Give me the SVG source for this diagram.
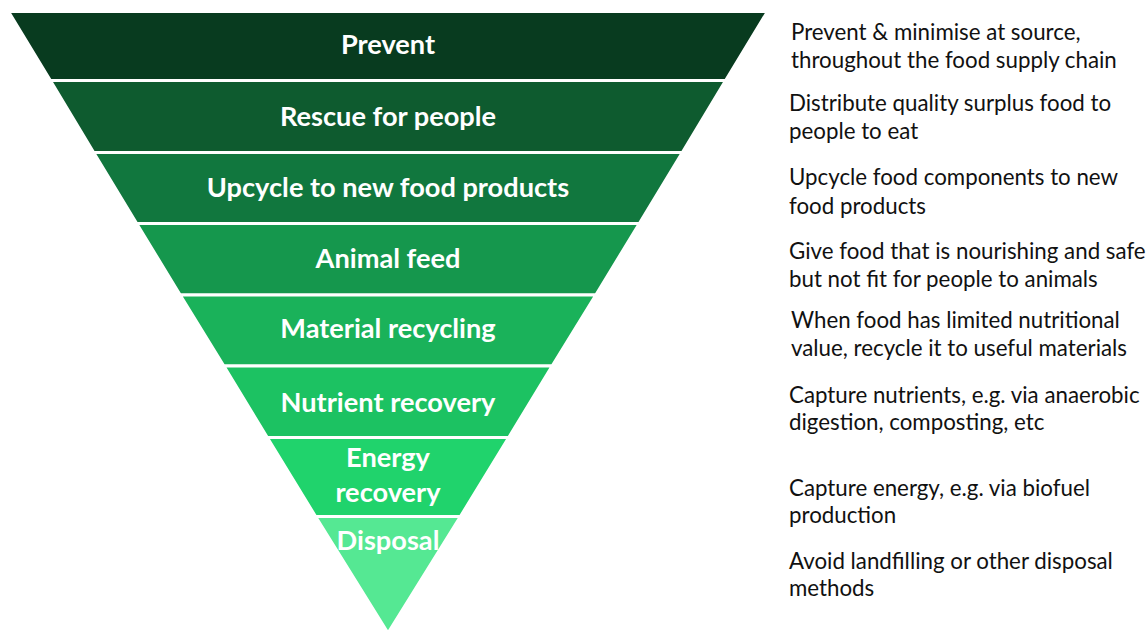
<svg xmlns="http://www.w3.org/2000/svg" width="1148" height="633" viewBox="0 0 1148 633">
<style>
.band{stroke:#ffffff;stroke-width:3;stroke-linejoin:miter}
.lbl{font-family:Lato,"Liberation Sans",sans-serif;font-weight:bold;font-size:27.2px;fill:#ffffff;text-anchor:middle}
.desc{font-family:Lato,"Liberation Sans",sans-serif;font-size:22.3px;fill:#111111}
</style>
<rect width="1148" height="633" fill="#ffffff"/>
<g id="pyramid">
<g id="n-prevent"><polygon class="band" points="8.5,11.5 767.5,11.5 725.6,80.5 50.4,80.5" fill="#083b1f"/><text class="lbl" x="388" y="54">Prevent</text></g>
<g id="n-rescue"><polygon class="band" points="50.4,80.5 725.6,80.5 682.3,152.5 93.7,152.5" fill="#0e5b2f"/><text class="lbl" x="388" y="125.5">Rescue for people</text></g>
<g id="n-upcycle"><polygon class="band" points="93.7,152.5 682.3,152.5 639.3,223.5 136.7,223.5" fill="#11773e"/><text class="lbl" x="388" y="196.5">Upcycle to new food products</text></g>
<g id="n-animal"><polygon class="band" points="136.7,223.5 639.3,223.5 595.8,295 180.2,295" fill="#15974d"/><text class="lbl" x="388" y="268">Animal feed</text></g>
<g id="n-material"><polygon class="band" points="180.2,295 595.8,295 552.1,366 223.9,366" fill="#1ab25a"/><text class="lbl" x="388" y="338">Material recycling</text></g>
<g id="n-nutrient"><polygon class="band" points="223.9,366 552.1,366 508.7,437.5 267.3,437.5" fill="#1cc262"/><text class="lbl" x="388" y="412">Nutrient recovery</text></g>
<g id="n-energy"><polygon class="band" points="267.3,437.5 508.7,437.5 460.4,516.5 315.6,516.5" fill="#20d36c"/><text class="lbl" x="388" y="467">Energy</text><text class="lbl" x="388" y="502">recovery</text></g>
<g id="n-disposal"><polygon class="band" points="315.6,516.5 460.4,516.5 388,633" fill="#55e893"/><text class="lbl" x="388" y="549.5">Disposal</text></g>
</g>
<g id="descriptions">
<text class="desc" x="791" y="40">Prevent &amp; minimise at source,</text>
<text class="desc" x="791" y="68">throughout the food supply chain</text>
<text class="desc" x="789" y="111">Distribute quality surplus food to</text>
<text class="desc" x="789" y="139">people to eat</text>
<text class="desc" x="789" y="185">Upcycle food components to new</text>
<text class="desc" x="789" y="214">food products</text>
<text class="desc" x="789" y="259">Give food that is nourishing and safe</text>
<text class="desc" x="789" y="287">but not fit for people to animals</text>
<text class="desc" x="791" y="328">When food has limited nutritional</text>
<text class="desc" x="791" y="356">value, recycle it to useful materials</text>
<text class="desc" x="789" y="403">Capture nutrients, e.g. via anaerobic</text>
<text class="desc" x="789" y="430">digestion, composting, etc</text>
<text class="desc" x="789" y="496">Capture energy, e.g. via biofuel</text>
<text class="desc" x="789" y="523">production</text>
<text class="desc" x="789" y="569">Avoid landfilling or other disposal</text>
<text class="desc" x="789" y="596">methods</text>
</g>
</svg>
